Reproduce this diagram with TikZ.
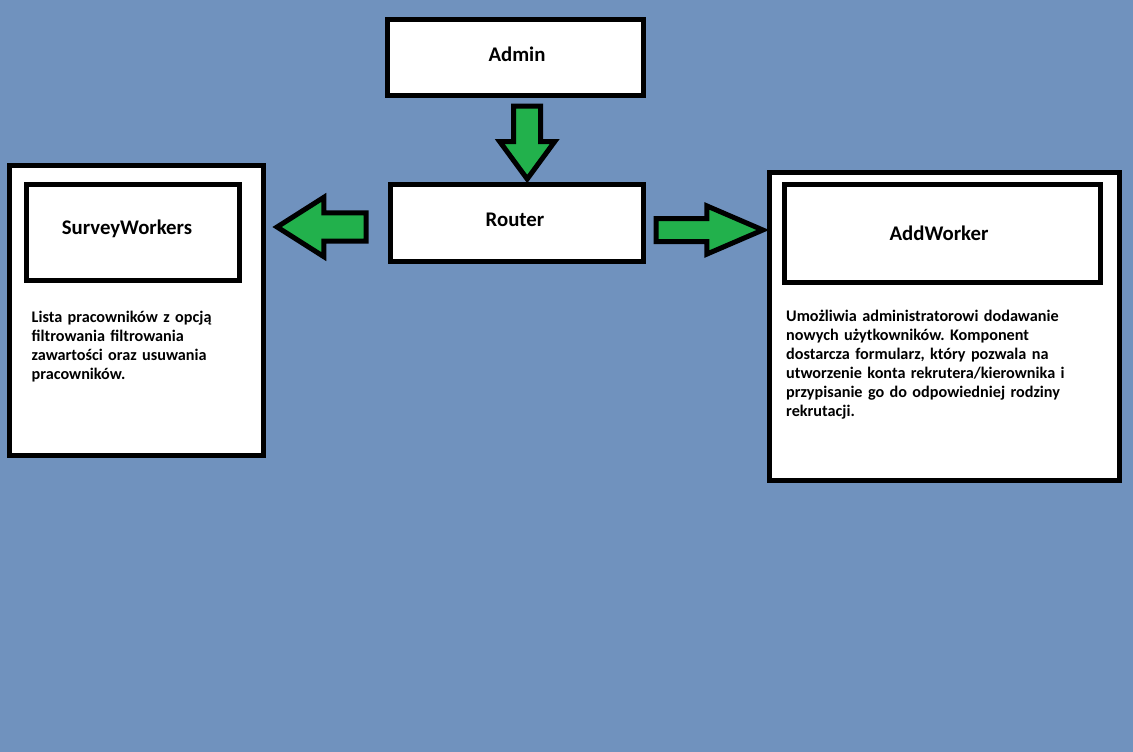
\documentclass[tikz,border=0pt]{standalone}
\usepackage{fontspec}
\setmainfont{Carlito}
\usetikzlibrary{positioning, calc, shapes.arrows}

\definecolor{paintblue}{RGB}{112,146,190}
\definecolor{paintgreen}{RGB}{34,177,76}

\tikzset{
  box/.style={draw, line width=5pt, fill=white, inner sep=0pt},
  title/.style={font=\bfseries\fontsize{20.8}{25}\selectfont},
  desc/.style={anchor=base west, inner sep=0pt, text width=340pt, align=left,
    font=\bfseries\fontsize{16.2}{19}\selectfont},
  bigarrow/.style={single arrow, draw, line width=5pt, fill=paintgreen, anchor=tail,
    inner xsep=0pt, outer sep=0pt, single arrow head indent=0pt}
}

\begin{document}
\frenchspacing
\begin{tikzpicture}[x=1pt, y=-1pt]
   \fill[paintblue] (0,0) rectangle (1133,752);
   \useasboundingbox (0,0) rectangle (1133,752);

   % top and middle
   \node[box, minimum width=256pt, minimum height=76pt,
     label={[name=adminlabel, title, xshift=1.5pt, yshift=3pt]center:Admin}] (admin) at (515.5,57.5) {};
   \node[box, minimum width=253pt, minimum height=77pt,
     label={[name=routerlabel, title, xshift=-2pt, yshift=3pt]center:Router}] (router) at (517,223) {};

   % left panel
   \node[box, minimum width=254pt, minimum height=290pt] (survey) at (136.5,310.5) {};
   \node[box, minimum width=213pt, minimum height=96pt,
     label={[name=surveylabel, title, xshift=-6pt, yshift=4pt]center:SurveyWorkers}] (surveyhead) at (133,232.5) {};
   \node[desc] (surveytext) at (31.5,322.5) {Lista pracowników z opcją\\
     filtrowania filtrowania\\
     zawartości oraz usuwania\\
     pracowników.};

   % right panel
   \node[box, minimum width=350pt, minimum height=308pt] (add) at (944.5,326.5) {};
   \node[box, minimum width=316pt, minimum height=98pt,
     label={[name=addlabel, title, xshift=-3.5pt]center:AddWorker}] (addhead) at (942.5,233.5) {};
   \node[desc] (addtext) at (786,321) {Umożliwia administratorowi dodawanie\\
     nowych użytkowników. Komponent\\
     dostarcza formularz, który pozwala na\\
     utworzenie konta rekrutera/kierownika i\\
     przypisanie go do odpowiedniej rodziny\\
     rekrutacji.};

   % arrows
   \node[bigarrow, rotate=-90, minimum height=73pt, inner ysep=11pt,
     single arrow head extend=14pt, single arrow tip angle=72.6] (todown) at ($(admin.south)+(11.7,8)$) {};
   \node[bigarrow, minimum height=106.8pt, inner ysep=9pt,
     single arrow head extend=12.6pt, single arrow tip angle=46.6] (toadd) at ($(router.east)+(10,7)$) {};
   \node[bigarrow, rotate=180, minimum height=88.9pt, inner ysep=11.6pt,
     single arrow head extend=15.6pt, single arrow tip angle=64.8] (tosurvey) at ($(router.west)+(-22,4)$) {};
\end{tikzpicture}
\end{document}
